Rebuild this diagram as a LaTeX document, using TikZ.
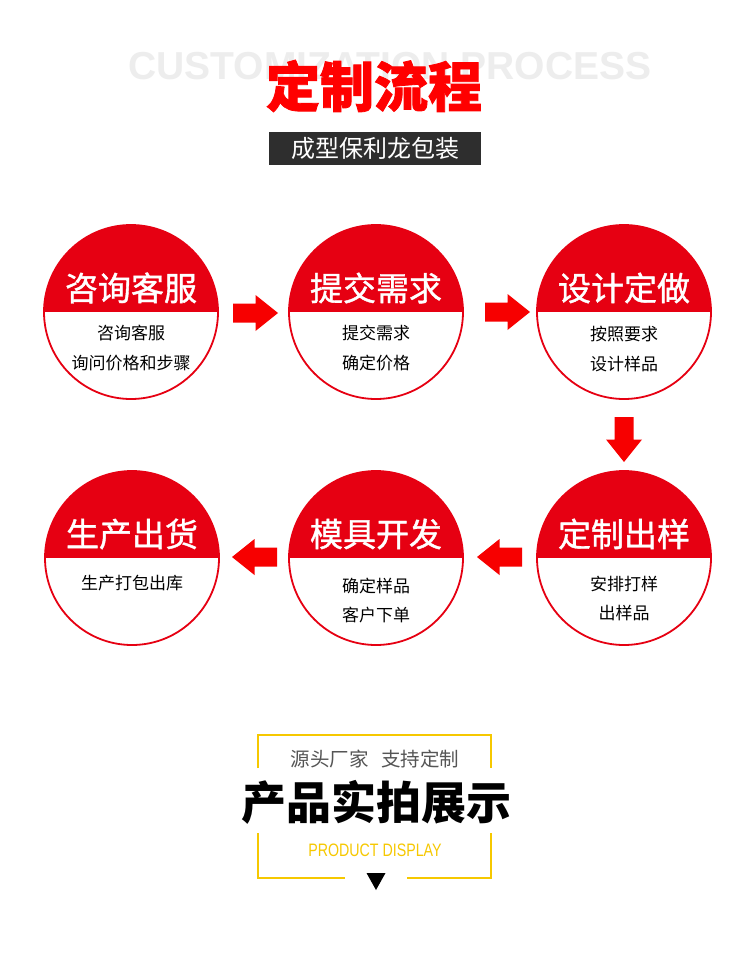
\documentclass[tikz,border=0pt]{standalone}
\usepackage{fontspec}
\setmainfont{Noto Sans CJK SC}
\newfontfamily\cjk{Noto Sans CJK SC}
\newfontfamily\cjkmed{Noto Sans CJK SC}[FakeBold=1.2]
\newfontfamily\cjkheavy{Noto Sans CJK SC}[BoldFeatures={FakeBold=1.5}]
\newfontfamily\latinbold{Liberation Sans}
\newfontfamily\narrowlatin{Liberation Sans}[FakeStretch=0.79]
\definecolor{cred}{HTML}{E60012}
\definecolor{arrred}{HTML}{F70000}
\definecolor{bgtext}{HTML}{EDEDED}
\definecolor{boxdark}{HTML}{2E2E2E}
\definecolor{fyellow}{HTML}{F6C800}
\definecolor{subgray}{HTML}{555555}
\tikzset{
  stepcircle/.style={circle, minimum size=174, inner sep=0, draw=cred, line width=1.8, fill=white,
    path picture={\fill[cred] (path picture bounding box.west) rectangle (path picture bounding box.north east);}},
  steptitle/.style={text=white, font=\cjkmed\fontsize{33}{36}\selectfont, inner sep=0},
  stepsub/.style={text=black, font=\cjk\fontsize{17}{20}\selectfont, inner sep=0},
  blockarrow/.pic={\fill[arrred] (-22.5,-9.5) -- (0,-9.5) -- (0,-18) -- (22.5,0) -- (0,18) -- (0,9.5) -- (-22.5,9.5) -- cycle;},
  frameline/.style={draw=fyellow, line width=2}
}
\begin{document}
\begin{tikzpicture}[x=1pt,y=-1pt]
\useasboundingbox[fill=white] (0,0) rectangle (750,955);
% header
\node[text=bgtext, font=\latinbold\bfseries\fontsize{39}{44}\selectfont, inner sep=0] (bg) at (390,66) {CUSTOMIZATION PROCESS};
\node[text=red, font=\cjkheavy\bfseries\fontsize{54}{60}\selectfont, inner sep=0] (title) at (374,86) {定制流程};
\node[fill=boxdark, minimum width=212, minimum height=32.5, inner sep=0, text=white, font=\cjk\fontsize{24}{28}\selectfont] (sub) at (375,148.75) {成型保利龙包装};
% circles
\node[stepcircle] (c1) at (131,312) {};
\node[stepcircle] (c2) at (376,312) {};
\node[stepcircle] (c3) at (624,312) {};
\node[stepcircle] (c4) at (624,558) {};
\node[stepcircle] (c5) at (376,558) {};
\node[stepcircle] (c6) at (132,558) {};
% titles
\node[steptitle] (t1) at (131,288) {咨询客服};
\node[steptitle] (t2) at (376,288) {提交需求};
\node[steptitle] (t3) at (624,288) {设计定做};
\node[steptitle] (t4) at (624,534) {定制出样};
\node[steptitle] (t5) at (376,534) {模具开发};
\node[steptitle] (t6) at (132,534) {生产出货};
% sub texts
\node[stepsub] (s1a) at (131,333) {咨询客服};
\node[stepsub] (s1b) at (131,363) {询问价格和步骤};
\node[stepsub] (s2a) at (376,333) {提交需求};
\node[stepsub] (s2b) at (376,363) {确定价格};
\node[stepsub] (s3a) at (624,334) {按照要求};
\node[stepsub] (s3b) at (624,364) {设计样品};
\node[stepsub] (s4a) at (624,584) {安排打样};
\node[stepsub] (s4b) at (624,613) {出样品};
\node[stepsub] (s5a) at (376,586) {确定样品};
\node[stepsub] (s5b) at (376,615) {客户下单};
\node[stepsub] (s6a) at (132,583) {生产打包出库};
% arrows
\pic (a1) at (255.5,313) {blockarrow};
\pic (a2) at (507.5,312) {blockarrow};
\pic[rotate=-90] (a3) at (624,439.5) {blockarrow};
\pic[rotate=180] (a4) at (499.5,557) {blockarrow};
\pic[rotate=180] (a5) at (254.5,557) {blockarrow};
% bottom frame
\draw[frameline] (258,768) -- (258,735) -- (491,735) -- (491,768);
\draw[frameline] (258,833) -- (258,878) -- (345,878);
\draw[frameline] (407,878) -- (491,878) -- (491,833);
\fill[black] (366.5,873) -- (385.5,873) -- (376,890) -- cycle;
\node[text=subgray, font=\cjk\fontsize{19.5}{22}\selectfont, inner sep=0] (tag) at (375,759) {源头厂家\hspace{13pt}支持定制};
\node[text=black, font=\cjk\bfseries\fontsize{45}{50}\selectfont, inner sep=0] (show) at (376,802) {产品实拍展示};
\node[text=fyellow, font=\narrowlatin\fontsize{18}{20}\selectfont, inner sep=0] (pd) at (375,850) {PRODUCT DISPLAY};
\end{tikzpicture}
\end{document}
